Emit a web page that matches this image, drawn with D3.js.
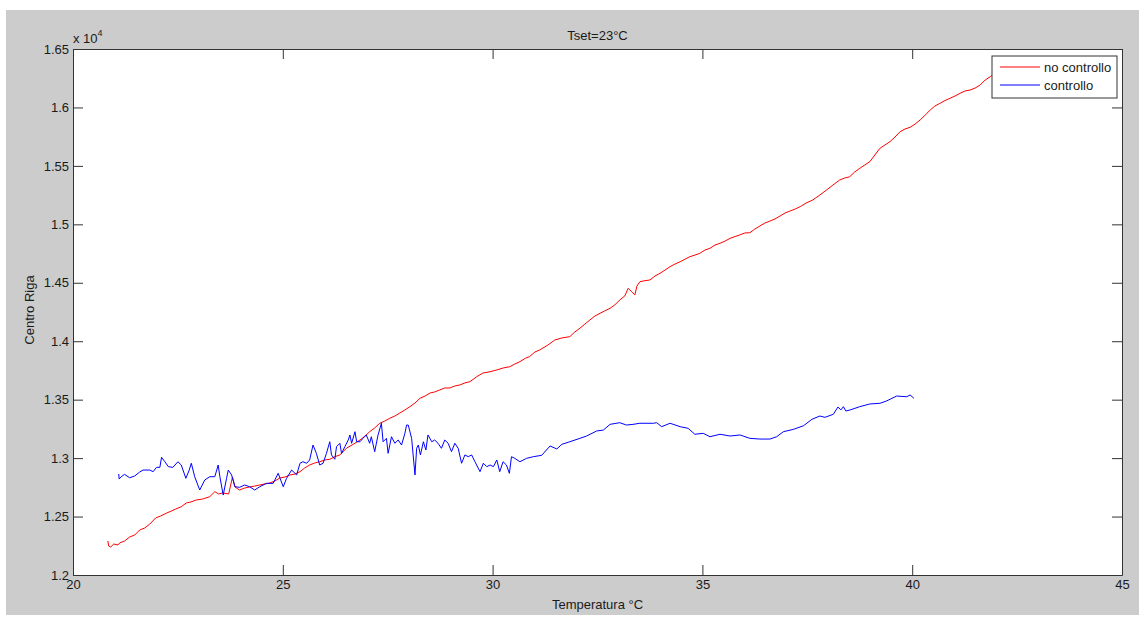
<!DOCTYPE html>
<html>
<head>
<meta charset="utf-8">
<script src="https://cdn.jsdelivr.net/npm/d3@7"></script>
<style>
  html, body { margin: 0; padding: 0; background: #ffffff; }
  svg { display: block; }
  text { font-family: "Liberation Sans", Arial, sans-serif; fill: #1a1a1a; }
</style>
</head>
<body>
<svg id="chart" width="1139" height="617"></svg>
<script>
// Centro Riga vs temperature, without control (red) and with control (blue)
const titleText = "Tset=23°C";
const xLabel = "Temperatura °C";
const yLabel = "Centro Riga";
const seriesNames = ["no controllo", "controllo"];
const seriesColors = ["#ff0000", "#0000ff"];

const xTicks = [20, 25, 30, 35, 40, 45];
const yTicks = [12000, 12500, 13000, 13500, 14000, 14500, 15000, 15500, 16000, 16500];

// no controllo: temperature [°C], centro riga
const tempNoCtrl = [
  20.83, 20.85, 20.90, 20.97, 21.07, 21.11, 21.23, 21.35, 21.47, 21.59, 21.71, 21.83, 21.97, 22.09, 22.23,
  22.35, 22.45, 22.58, 22.70, 22.81, 22.94, 23.09, 23.26, 23.38, 23.47, 23.57, 23.71, 23.80, 23.86, 23.97,
  24.09, 24.21, 24.33, 24.45, 24.57, 24.69, 24.81, 24.93, 25.05, 25.17, 25.29, 25.41, 25.52, 25.64, 25.76,
  25.88, 26.00, 26.12, 26.24, 26.36, 26.52, 26.65, 26.84, 26.96, 27.07, 27.19, 27.31, 27.43, 27.55, 27.67,
  27.79, 27.91, 28.03, 28.15, 28.27, 28.39, 28.51, 28.62, 28.74, 28.86, 28.98, 29.10, 29.22, 29.34, 29.46,
  29.62, 29.77, 29.94, 30.10, 30.25, 30.41, 30.53, 30.65, 30.79, 30.88, 31.01, 31.12, 31.32, 31.48, 31.65,
  31.84, 31.96, 32.08, 32.20, 32.32, 32.44, 32.56, 32.67, 32.80, 32.91, 33.03, 33.15, 33.23, 33.32, 33.39,
  33.44, 33.51, 33.63, 33.75, 33.87, 33.99, 34.11, 34.23, 34.35, 34.47, 34.59, 34.70, 34.82, 34.94, 35.06,
  35.18, 35.30, 35.42, 35.54, 35.66, 35.78, 35.89, 36.01, 36.13, 36.25, 36.37, 36.49, 36.61, 36.73, 36.85,
  36.97, 37.09, 37.21, 37.33, 37.47, 37.63, 37.80, 37.96, 38.11, 38.27, 38.39, 38.51, 38.63, 38.75, 38.87,
  38.99, 39.11, 39.23, 39.35, 39.47, 39.59, 39.71, 39.83, 39.95, 40.07, 40.19, 40.31, 40.43, 40.54, 40.66,
  40.78, 40.90, 41.02, 41.14, 41.26, 41.38, 41.50, 41.62, 41.74, 41.86, 41.98, 42.10
];
const valNoCtrl = [
  12291, 12248, 12240, 12265, 12257, 12274, 12291, 12325, 12342, 12385, 12402, 12436, 12488, 12505, 12530,
  12548, 12565, 12584, 12616, 12625, 12642, 12650, 12670, 12713, 12693, 12702, 12693, 12838, 12753, 12727,
  12744, 12753, 12761, 12770, 12779, 12787, 12804, 12830, 12838, 12855, 12864, 12884, 12915, 12941, 12958,
  12969, 12984, 12990, 13012, 13027, 13086, 13112, 13155, 13189, 13226, 13258, 13298, 13317, 13341, 13360,
  13386, 13412, 13440, 13471, 13512, 13531, 13557, 13566, 13583, 13600, 13600, 13617, 13626, 13643, 13654,
  13696, 13728, 13739, 13754, 13771, 13782, 13805, 13825, 13856, 13868, 13908, 13925, 13968, 14010, 14028,
  14039, 14079, 14111, 14147, 14182, 14216, 14239, 14259, 14282, 14310, 14353, 14387, 14453, 14421, 14396,
  14472, 14509, 14518, 14524, 14558, 14581, 14609, 14638, 14661, 14680, 14703, 14723, 14737, 14752, 14780,
  14795, 14823, 14838, 14857, 14880, 14896, 14909, 14926, 14928, 14960, 14986, 15011, 15028, 15046, 15071,
  15097, 15114, 15131, 15151, 15182, 15208, 15251, 15294, 15336, 15379, 15396, 15407, 15448, 15479, 15508,
  15536, 15593, 15650, 15679, 15707, 15747, 15792, 15816, 15830, 15858, 15893, 15935, 15978, 16012, 16035,
  16059, 16078, 16098, 16121, 16141, 16149, 16166, 16192, 16235, 16263, 16295, 16320
];

// controllo: temperature [°C], centro riga
const tempCtrl = [
  21.09, 21.10, 21.15, 21.23, 21.35, 21.47, 21.59, 21.67, 21.83, 21.91, 21.99, 22.07, 22.11, 22.19, 22.27,
  22.38, 22.50, 22.58, 22.69, 22.77, 22.82, 22.90, 23.02, 23.14, 23.26, 23.38, 23.46, 23.50, 23.58, 23.66,
  23.70, 23.78, 23.86, 23.97, 24.09, 24.21, 24.33, 24.45, 24.61, 24.77, 24.89, 25.01, 25.09, 25.21, 25.33,
  25.41, 25.48, 25.57, 25.64, 25.72, 25.80, 25.88, 25.96, 26.04, 26.12, 26.16, 26.24, 26.28, 26.36, 26.40,
  26.48, 26.56, 26.60, 26.64, 26.72, 26.76, 26.84, 26.91, 26.99, 27.07, 27.11, 27.19, 27.27, 27.35, 27.39,
  27.47, 27.51, 27.59, 27.67, 27.75, 27.83, 27.91, 27.95, 27.99, 28.07, 28.15, 28.19, 28.23, 28.28, 28.35,
  28.41, 28.46, 28.55, 28.62, 28.70, 28.78, 28.86, 28.94, 29.02, 29.10, 29.18, 29.26, 29.34, 29.42, 29.50,
  29.58, 29.70, 29.78, 29.86, 29.94, 30.02, 30.10, 30.17, 30.25, 30.33, 30.40, 30.45, 30.53, 30.65, 30.81,
  30.97, 31.17, 31.37, 31.53, 31.65, 31.84, 32.08, 32.24, 32.48, 32.64, 32.80, 33.03, 33.19, 33.35, 33.51,
  33.83, 33.91, 34.03, 34.23, 34.47, 34.66, 34.82, 35.02, 35.18, 35.42, 35.66, 35.90, 36.13, 36.37, 36.61,
  36.77, 36.93, 37.17, 37.41, 37.61, 37.80, 37.92, 38.12, 38.23, 38.30, 38.36, 38.42, 38.52, 38.75, 38.99,
  39.23, 39.39, 39.63, 39.87, 39.95, 40.04
];
const valCtrl = [
  12864, 12821, 12841, 12861, 12832, 12847, 12881, 12898, 12898, 12884, 12921, 12921, 13007, 12969, 12927,
  12921, 12969, 12941, 12827, 12898, 12956, 12841, 12727, 12813, 12841, 12841, 12941, 12841, 12684, 12827,
  12898, 12856, 12755, 12750, 12770, 12755, 12727, 12755, 12784, 12784, 12870, 12755, 12827, 12898, 12856,
  12956, 12969, 12956, 12984, 13112, 13041, 12941, 12956, 13041, 13140, 13027, 12990, 13098, 13127, 13041,
  13098, 13155, 13198, 13127, 13226, 13140, 13140, 13169, 13198, 13127, 13183, 13055, 13198, 13298, 13140,
  13169, 13041, 13183, 13127, 13155, 13112, 13212, 13283, 13283, 13169, 12856, 13084, 13112, 13027, 13140,
  13069, 13198, 13140, 13155, 13127, 13084, 13155, 13127, 13055, 13127, 13084, 12956, 13027, 13012, 13027,
  12969, 12884, 12956, 12927, 12941, 12927, 12984, 12884, 12969, 12941, 12870, 13012, 12998, 12969, 12998,
  13012, 13024, 13104, 13078, 13118, 13140, 13169, 13189, 13232, 13240, 13289, 13303, 13283, 13289, 13298,
  13298, 13303, 13269, 13298, 13269, 13255, 13204, 13212, 13183, 13204, 13189, 13198, 13169, 13163, 13163,
  13183, 13226, 13246, 13277, 13332, 13360, 13349, 13375, 13437, 13412, 13440, 13403, 13412, 13440, 13463,
  13469, 13489, 13531, 13525, 13540, 13512
];

const W = 1139, H = 617;
const plot = { left: 73, top: 49, right: 1122, bottom: 575 };

const svg = d3.select("#chart");

// figure background
svg.append("rect").attr("x", 0).attr("y", 0).attr("width", W).attr("height", H).attr("fill", "#ffffff");
svg.append("rect").attr("x", 6).attr("y", 10).attr("width", W - 6).attr("height", 605).attr("fill", "#cccccc");

// axes area
svg.append("rect")
  .attr("x", plot.left).attr("y", plot.top)
  .attr("width", plot.right - plot.left).attr("height", plot.bottom - plot.top)
  .attr("fill", "#ffffff");

const x = d3.scaleLinear().domain([20, 45]).range([plot.left, plot.right]);
const y = d3.scaleLinear().domain([12000, 16500]).range([plot.bottom, plot.top]);

// series lines
const series = [
  { name: seriesNames[0], color: seriesColors[0], pts: d3.zip(tempNoCtrl, valNoCtrl) },
  { name: seriesNames[1], color: seriesColors[1], pts: d3.zip(tempCtrl, valCtrl) }
];
const line = d3.line().x(d => x(d[0])).y(d => y(d[1]));

svg.append("defs").append("clipPath").attr("id", "plotClip")
  .append("rect")
  .attr("x", plot.left).attr("y", plot.top)
  .attr("width", plot.right - plot.left).attr("height", plot.bottom - plot.top);

const lines = svg.append("g").attr("clip-path", "url(#plotClip)");
series.forEach(s => {
  lines.append("path")
    .datum(s.pts)
    .attr("d", line)
    .attr("fill", "none")
    .attr("stroke", s.color)
    .attr("stroke-width", 1)
    .attr("stroke-linejoin", "round");
});

// axes with inward ticks on all four sides
const axisColor = "#333333";
const fmtY = d => String(+(d / 1e4).toFixed(3));

function styleAxis(g) {
  g.selectAll(".domain").attr("stroke", axisColor).attr("stroke-width", 1);
  g.selectAll(".tick line").attr("stroke", axisColor).attr("stroke-width", 1);
  g.selectAll(".tick text")
    .attr("fill", "#1a1a1a")
    .style("font-family", '"Liberation Sans", Arial, sans-serif')
    .style("font-size", "13px");
}

svg.append("g")
  .attr("transform", `translate(0,${plot.bottom})`)
  .call(d3.axisBottom(x).tickValues(xTicks).tickSizeInner(-10).tickSizeOuter(0).tickPadding(5))
  .call(styleAxis);

svg.append("g")
  .attr("transform", `translate(0,${plot.top})`)
  .call(d3.axisTop(x).tickValues(xTicks).tickSizeInner(-10).tickSizeOuter(0).tickFormat(""))
  .call(styleAxis);

svg.append("g")
  .attr("transform", `translate(${plot.left},0)`)
  .call(d3.axisLeft(y).tickValues(yTicks).tickSizeInner(-10).tickSizeOuter(0).tickPadding(4).tickFormat(fmtY))
  .call(styleAxis);

svg.append("g")
  .attr("transform", `translate(${plot.right},0)`)
  .call(d3.axisRight(y).tickValues(yTicks).tickSizeInner(-10).tickSizeOuter(0).tickFormat(""))
  .call(styleAxis);

// exponent marker
const expo = svg.append("text")
  .attr("x", plot.left).attr("y", 42.5)
  .style("font-size", "13px");
expo.append("tspan").text("x 10");
expo.append("tspan").attr("dy", -7).style("font-size", "9px").text("4");

// title and axis labels
svg.append("text")
  .attr("x", (plot.left + plot.right) / 2).attr("y", 40)
  .attr("text-anchor", "middle")
  .style("font-size", "13px")
  .text(titleText);

svg.append("text")
  .attr("x", (plot.left + plot.right) / 2).attr("y", 609)
  .attr("text-anchor", "middle")
  .style("font-size", "13px")
  .text(xLabel);

svg.append("text")
  .attr("transform", `translate(34,310) rotate(-90)`)
  .attr("text-anchor", "middle")
  .style("font-size", "13px")
  .text(yLabel);

// legend
const leg = svg.append("g");
leg.append("rect")
  .attr("x", 992).attr("y", 56).attr("width", 125).attr("height", 42)
  .attr("fill", "#ffffff").attr("stroke", axisColor).attr("stroke-width", 1);
series.forEach((s, i) => {
  const ly = 67 + i * 18;
  leg.append("line")
    .attr("x1", 1000).attr("x2", 1040).attr("y1", ly).attr("y2", ly)
    .attr("stroke", s.color).attr("stroke-width", 1);
  leg.append("text")
    .attr("x", 1044).attr("y", ly + 4.5)
    .style("font-size", "13px")
    .text(s.name);
});
</script>
</body>
</html>
